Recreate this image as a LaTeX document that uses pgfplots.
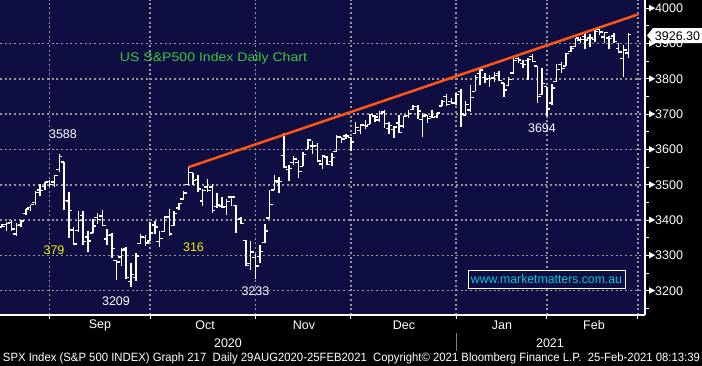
\documentclass[border=0pt]{standalone}
\usepackage{pgfplots}
\pgfplotsset{compat=1.18}
\usepackage{pgfplotstable}
\usepackage{fontspec}
\setmainfont{Liberation Sans}
\definecolor{navy}{RGB}{14,14,66}
\definecolor{gridc}{RGB}{150,150,150}
\definecolor{trend}{RGB}{255,85,20}
\definecolor{ttl}{RGB}{60,200,60}
\definecolor{web}{RGB}{0,200,215}
\definecolor{yel}{RGB}{240,240,0}
\newcommand\bfs{\fontsize{12.5bp}{14bp}\selectfont}
\newcommand\tri{\tikz[baseline=0pt]\fill[white] (0,1.3bp)--(0,7.7bp)--(6bp,4.5bp)--cycle;}
\pgfdeclareplotmark{otick}{\pgfpathmoveto{\pgfqpoint{-3.2bp}{0pt}}\pgfpathlineto{\pgfqpoint{0pt}{0pt}}\pgfusepathqstroke}
\pgfdeclareplotmark{ctick}{\pgfpathmoveto{\pgfqpoint{0pt}{0pt}}\pgfpathlineto{\pgfqpoint{3.2bp}{0pt}}\pgfusepathqstroke}
\pgfplotstableread{
i o h l c
-11 3380.86 3387.59 3379.22 3381.99
-10 3387.04 3395.06 3370.15 3389.78
-9 3392.51 3399.54 3369.66 3374.85
-8 3360.48 3390.80 3354.69 3385.51
-7 3386.01 3399.96 3379.31 3397.16
-6 3418.09 3432.09 3413.13 3431.28
-5 3435.95 3444.21 3425.84 3443.62
-4 3449.97 3481.07 3444.15 3478.73
-3 3485.14 3501.38 3468.35 3484.55
-2 3494.69 3509.23 3484.32 3508.01
-1 3509.73 3514.77 3493.25 3500.31
0 3507.44 3528.03 3494.60 3526.65
1 3543.76 3588.11 3535.23 3580.84
2 3564.74 3564.85 3427.41 3455.06
3 3453.60 3479.15 3349.63 3426.96
4 3371.88 3379.97 3329.27 3331.84
5 3369.82 3424.77 3366.84 3398.96
6 3412.56 3425.55 3329.25 3339.19
7 3352.70 3368.95 3310.47 3340.97
8 3363.56 3402.93 3363.56 3383.54
9 3407.73 3419.48 3389.25 3401.20
10 3411.23 3428.92 3384.45 3385.49
11 3346.86 3375.17 3328.82 3357.01
12 3357.38 3362.27 3292.40 3319.47
13 3285.57 3285.57 3229.10 3281.06
14 3295.75 3320.31 3270.95 3315.57
15 3320.11 3323.35 3232.57 3236.92
16 3226.14 3278.70 3209.45 3246.59
17 3236.66 3306.88 3228.44 3298.46
18 3333.90 3360.74 3332.91 3351.60
19 3350.92 3357.92 3327.54 3335.47
20 3341.21 3393.56 3340.47 3363.00
21 3385.87 3397.18 3361.39 3380.80
22 3338.94 3369.10 3323.69 3348.42
23 3367.27 3409.57 3367.27 3408.60
24 3408.74 3431.56 3354.54 3360.97
25 3384.56 3426.26 3384.56 3419.44
26 3434.28 3447.28 3428.15 3446.83
27 3459.67 3482.34 3458.07 3477.14
28 3500.02 3549.85 3499.61 3534.22
29 3534.01 3534.01 3500.86 3511.93
30 3515.47 3527.94 3480.55 3488.67
31 3453.72 3489.08 3440.89 3483.34
32 3493.50 3515.76 3480.45 3483.81
33 3493.66 3502.42 3419.93 3426.92
34 3439.38 3476.93 3435.65 3443.12
35 3439.91 3464.86 3433.06 3435.56
36 3438.50 3460.53 3415.34 3453.49
37 3464.90 3466.46 3440.45 3465.39
38 3441.42 3441.42 3364.86 3400.97
39 3403.15 3409.51 3388.71 3390.68
40 3342.48 3342.48 3268.89 3271.03
41 3277.17 3341.05 3259.82 3310.11
42 3293.59 3304.93 3233.94 3269.96
43 3296.20 3330.14 3279.74 3310.24
44 3336.25 3389.49 3336.25 3369.16
45 3406.46 3486.25 3405.17 3443.44
46 3485.74 3529.05 3485.74 3510.45
47 3508.34 3520.76 3476.93 3509.44
48 3583.04 3645.99 3547.48 3550.50
49 3543.26 3557.22 3511.91 3545.53
50 3563.22 3581.16 3557.00 3572.66
51 3562.67 3569.02 3518.58 3537.01
52 3552.57 3593.66 3552.57 3585.15
53 3600.16 3628.51 3600.16 3626.91
54 3610.31 3623.11 3588.68 3609.53
55 3612.09 3619.09 3567.33 3567.79
56 3559.41 3585.22 3543.84 3581.87
57 3579.31 3581.23 3556.85 3557.54
58 3566.82 3589.81 3552.77 3577.59
59 3594.52 3642.31 3594.52 3635.41
60 3635.50 3635.50 3617.76 3629.65
61 3638.55 3644.31 3629.33 3638.35
62 3634.18 3634.18 3594.39 3621.63
63 3645.87 3678.45 3645.87 3662.45
64 3653.78 3670.96 3644.84 3669.01
65 3668.28 3682.73 3657.17 3666.72
66 3670.94 3699.20 3670.94 3699.12
67 3694.73 3697.41 3678.88 3691.96
68 3683.05 3708.45 3678.83 3702.25
69 3705.98 3712.39 3660.54 3672.82
70 3659.13 3678.49 3645.18 3668.10
71 3656.08 3665.91 3633.40 3663.46
72 3675.27 3697.61 3645.84 3647.49
73 3666.41 3695.29 3659.62 3694.62
74 3696.25 3711.27 3688.57 3701.17
75 3713.65 3725.12 3710.87 3722.48
76 3722.39 3726.70 3685.84 3709.41
77 3684.28 3702.90 3636.48 3694.92
78 3698.08 3698.26 3676.16 3687.26
79 3693.42 3711.24 3689.28 3690.01
80 3694.03 3703.82 3689.32 3703.06
81 3723.03 3740.51 3723.03 3735.36
82 3750.01 3756.12 3723.31 3727.04
83 3736.19 3744.63 3730.21 3732.04
84 3733.27 3760.20 3726.88 3756.07
85 3764.61 3769.99 3662.71 3700.65
86 3698.02 3737.83 3695.07 3726.86
87 3712.20 3783.04 3705.34 3748.14
88 3764.71 3811.55 3764.71 3803.79
89 3815.05 3826.69 3783.60 3824.68
90 3803.14 3817.86 3789.02 3799.61
91 3801.62 3810.78 3776.51 3801.19
92 3802.23 3820.96 3791.50 3809.84
93 3814.98 3823.60 3792.86 3795.54
94 3788.73 3788.73 3749.62 3768.25
95 3781.88 3804.53 3780.37 3798.91
96 3816.22 3859.75 3816.22 3851.85
97 3857.46 3861.45 3845.05 3853.07
98 3844.24 3852.31 3830.41 3841.47
99 3851.68 3859.23 3797.16 3855.36
100 3862.96 3870.90 3847.78 3849.62
101 3836.83 3836.83 3732.48 3750.77
102 3755.75 3830.50 3755.75 3787.38
103 3778.05 3778.05 3694.12 3714.24
104 3731.17 3784.32 3725.62 3773.86
105 3791.84 3843.09 3791.84 3826.31
106 3840.27 3847.51 3816.68 3830.17
107 3836.66 3872.42 3836.66 3871.74
108 3878.30 3894.56 3874.93 3886.83
109 3892.59 3915.77 3892.59 3915.59
110 3910.49 3918.35 3902.64 3911.23
111 3920.78 3931.50 3884.94 3909.88
112 3916.40 3925.99 3890.39 3916.38
113 3911.65 3937.23 3905.78 3934.83
114 3939.61 3950.43 3923.85 3932.59
115 3918.50 3933.61 3900.43 3931.33
116 3915.86 3921.98 3885.03 3913.97
117 3921.16 3930.41 3903.07 3906.71
118 3885.55 3902.92 3874.71 3876.50
119 3857.07 3895.98 3805.59 3881.37
120 3873.71 3928.65 3859.60 3926.30
}\spx
\begin{document}
\begin{tikzpicture}
\useasboundingbox (0,0) rectangle (702bp,-366bp);
\fill[black] (0,0) rectangle (702bp,-366bp);
\begin{axis}[at={(0,0)}, anchor=north west, scale only axis,
  width=645bp, height=315bp,
  xmin=-11.4, xmax=123.5, ymin=3131.2, ymax=4023.5,
  axis background/.style={fill=navy},
  axis x line*=bottom, axis y line*=right,
  axis line style={white, line width=1.5bp, -},
  xtick={-1,20,42,62,84,103,122}, xticklabels={},
  ytick={3200,3300,3400,3500,3600,3700,3800,3900},
  extra y ticks={4000}, extra y tick style={grid=none},
  minor ytick={3150,3250,3350,3450,3550,3650,3750,3850,3950},
  tick align=outside, major tick length=4bp, minor tick length=4bp,
  tick style={white, line width=1bp},
  xmajorgrids, ymajorgrids,
  major grid style={gridc, line width=1.5bp, dash pattern=on 2bp off 2.7bp},
  yticklabel={\tri\pgfmathprintnumber[assume math mode=true,1000 sep={},fixed,precision=0]{\tick}},
  yticklabel style={anchor=west, inner sep=0pt, xshift=0bp, text=white, font=\bfs},
  clip=true]
\addplot[draw=none, mark=none, forget plot,
  error bars/.cd, y dir=plus, y explicit, error mark=none,
  error bar style={draw=white, solid, line width=1.5bp}]
  table[x=i, y=l, y error plus expr=\thisrow{h}-\thisrow{l}, y error minus expr=0] {\spx};
\addplot[only marks, mark=otick, white, mark options={line width=1.4bp}] table[x=i, y=o] {\spx};
\addplot[only marks, mark=ctick, white, mark options={line width=1.4bp}] table[x=i, y=c] {\spx};
\addplot[trend, line width=2.5bp, mark=none] coordinates {(28,3549.85) (122.1,3983)};
\end{axis}
\begin{scope}[x=1bp, y=-1bp]
  % value label
  \fill[white] (647,35.5) -- (653,28) -- (702,28) -- (702,43) -- (653,43) -- cycle;
  \node[black, font=\bfs, inner sep=0pt] at (677.5,35.8) {3926.30};
  % title and annotations
  \node[ttl, inner sep=0pt] at (213.5,58) {\resizebox{187bp}{\height}{\bfs US S\&P500 Index Daily Chart}};
  \node[white, font=\bfs, inner sep=0pt] at (63,134) {3588};
  \node[yel, font=\bfs, inner sep=0pt] at (54,250) {379};
  \node[white, font=\bfs, inner sep=0pt] at (116,301) {3209};
  \node[yel, font=\bfs, inner sep=0pt] at (193.5,247) {316};
  \node[white, font=\bfs, inner sep=0pt] at (255.5,291.5) {3233};
  \node[white, font=\bfs, inner sep=0pt] at (542,128.5) {3694};
  % website box
  \filldraw[fill=navy, draw=white, line width=1bp] (468,270) rectangle (625,288);
  \node[web, inner sep=0pt] at (546.5,279.3) {\resizebox{151bp}{\height}{\bfs www.marketmatters.com.au}};
  % month labels
  \foreach \m/\xx in {Sep/100, Oct/205, Nov/304, Dec/404, Jan/502, Feb/594}
    \node[white, font=\bfs, inner sep=0pt] at (\xx,325.5) {\m};
  \node[white, font=\bfs, inner sep=0pt] at (228,343) {2020};
  \node[white, font=\bfs, inner sep=0pt] at (550,343) {2021};
  \draw[gray, line width=0.8bp] (456,333) -- (456,351);
  \node[white, inner sep=0pt] at (351.5,358) {\resizebox{697bp}{\height}{\fontsize{12bp}{14bp}\selectfont SPX Index (S\&P 500 INDEX) Graph 217\ \ Daily 29AUG2020-25FEB2021\ \ Copyright© 2021 Bloomberg Finance L.P.\ \ 25-Feb-2021 08:13:39}};
\end{scope}
\end{tikzpicture}
\end{document}
